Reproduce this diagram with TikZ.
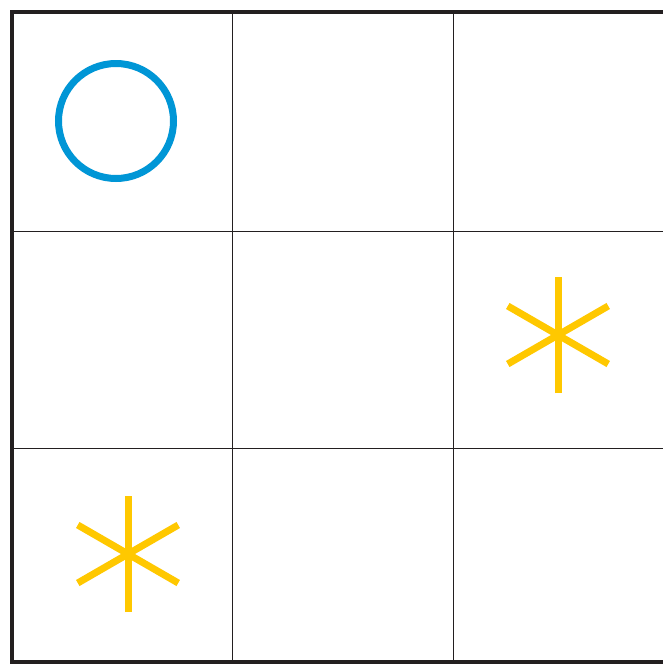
\documentclass[tikz,border=0pt]{standalone}
\definecolor{frame}{HTML}{231F20}
\definecolor{oblue}{HTML}{0096D6}
\definecolor{xyellow}{HTML}{FFC800}
\tikzset{
  gridline/.style={draw=frame, line width=0.9pt},
  frameline/.style={draw=frame, line width=4pt},
  omark/.style={draw=oblue, line width=7pt},
  starmark/.style={draw=xyellow, line width=7pt, line cap=butt},
}
\newcommand{\starsym}[2]{%
  \foreach \a in {90,30,-30}{
    \draw[starmark] ($(#1,#2)+(\a:58)$) -- ($(#1,#2)+(\a+180:58)$);
  }%
}
\usetikzlibrary{calc}
\begin{document}
\begin{tikzpicture}[x=1pt,y=-1pt]
\useasboundingbox (0,0) rectangle (663,664);
\clip (0,0) rectangle (663,664);
\fill[white] (0,0) rectangle (663,664);
% inner grid
\draw[gridline] (232,12) -- (232,662);
\draw[gridline] (453,12) -- (453,662);
\draw[gridline] (12,231) -- (680,231);
\draw[gridline] (12,448) -- (680,448);
% outer frame (right side beyond the picture)
\draw[frameline] (680,12) -- (12,12) -- (12,662) -- (680,662);
% O mark
\draw[omark] (116,121) circle (57.5);
% asterisks
\starsym{558}{335}
\starsym{128}{554}
\end{tikzpicture}
\end{document}
